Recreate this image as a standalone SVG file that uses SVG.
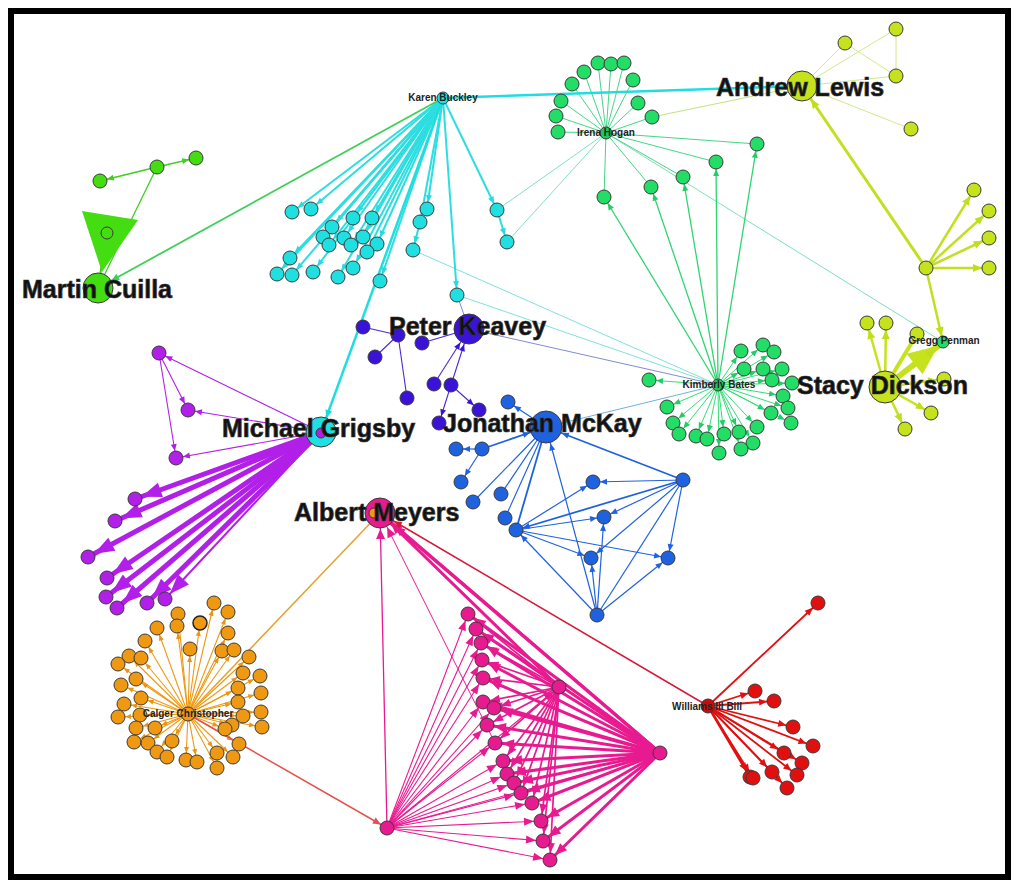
<svg xmlns="http://www.w3.org/2000/svg" width="1024" height="894" viewBox="0 0 1024 894">
<style>
.n circle{stroke:#3a3a3a;stroke-width:1}
.cy{fill:#1fdfe0}.gr{fill:#44dd11}.kg{fill:#22dd66}.yg{fill:#c6e21c}.pu{fill:#b11fe8}.vi{fill:#3a12d8}.bl{fill:#1f62e0}.pk{fill:#e81a90}.or{fill:#ee9911}.rd{fill:#e01010}
.big{font-family:"Liberation Sans",Arial,sans-serif;font-weight:bold;font-size:25px;fill:#111;stroke:#333;stroke-width:0.7}
.sm{font-family:"Liberation Sans",Arial,sans-serif;font-weight:bold;font-size:10px;fill:#222;text-anchor:middle}
g.e path{fill:none}
</style>
<defs>
<marker id="mcy" markerUnits="userSpaceOnUse" markerWidth="40" markerHeight="40" refX="14" refY="3" orient="auto" overflow="visible"><path d="M0,0L7,3L0,6z" fill="#1ed8dc"/></marker>
<marker id="mcyB" markerUnits="userSpaceOnUse" markerWidth="40" markerHeight="40" refX="23" refY="3.5" orient="auto" overflow="visible"><path d="M0,0L8,3.5L0,7z" fill="#1ed8dc"/></marker>
<marker id="mgr" markerUnits="userSpaceOnUse" markerWidth="40" markerHeight="40" refX="14" refY="3" orient="auto" overflow="visible"><path d="M0,0L7,3L0,6z" fill="#44cc22"/></marker>
<marker id="mgrB" markerUnits="userSpaceOnUse" markerWidth="40" markerHeight="40" refX="23" refY="3.5" orient="auto" overflow="visible"><path d="M0,0L8,3.5L0,7z" fill="#3fcf5a"/></marker>
<marker id="mkg" markerUnits="userSpaceOnUse" markerWidth="40" markerHeight="40" refX="14" refY="3" orient="auto" overflow="visible"><path d="M0,0L7,3L0,6z" fill="#22cc66"/></marker>
<marker id="myg" markerUnits="userSpaceOnUse" markerWidth="40" markerHeight="40" refX="16" refY="4" orient="auto" overflow="visible"><path d="M0,0L9,4L0,8z" fill="#bfdf1a"/></marker>
<marker id="mygG" markerUnits="userSpaceOnUse" markerWidth="40" markerHeight="40" refX="15" refY="4" orient="auto" overflow="visible"><path d="M0,0L9,4L0,8z" fill="#bfdf1a"/></marker>
<marker id="mygB" markerUnits="userSpaceOnUse" markerWidth="40" markerHeight="40" refX="25" refY="4" orient="auto" overflow="visible"><path d="M0,0L9,4L0,8z" fill="#bfdf1a"/></marker>
<marker id="mygH" markerUnits="userSpaceOnUse" markerWidth="60" markerHeight="60" refX="36" refY="13" orient="auto" overflow="visible"><path d="M0,0L30,13L0,26z" fill="#c6e21c"/></marker>
<marker id="mpuL" markerUnits="userSpaceOnUse" markerWidth="60" markerHeight="60" refX="27" refY="7.5" orient="auto" overflow="visible"><path d="M0,0L20,7.5L0,15z" fill="#b11fe8"/></marker>
<marker id="mpu" markerUnits="userSpaceOnUse" markerWidth="40" markerHeight="40" refX="14" refY="3" orient="auto" overflow="visible"><path d="M0,0L7,3L0,6z" fill="#b11fe8"/></marker>
<marker id="mvi" markerUnits="userSpaceOnUse" markerWidth="40" markerHeight="40" refX="14" refY="3" orient="auto" overflow="visible"><path d="M0,0L7,3L0,6z" fill="#3a12d8"/></marker>
<marker id="mviB" markerUnits="userSpaceOnUse" markerWidth="40" markerHeight="40" refX="23" refY="3" orient="auto" overflow="visible"><path d="M0,0L7,3L0,6z" fill="#3a12d8"/></marker>
<marker id="mbl" markerUnits="userSpaceOnUse" markerWidth="40" markerHeight="40" refX="14" refY="3" orient="auto" overflow="visible"><path d="M0,0L7,3L0,6z" fill="#1f62e0"/></marker>
<marker id="mblB" markerUnits="userSpaceOnUse" markerWidth="40" markerHeight="40" refX="24" refY="3" orient="auto" overflow="visible"><path d="M0,0L7,3L0,6z" fill="#1f62e0"/></marker>
<marker id="mpk" markerUnits="userSpaceOnUse" markerWidth="40" markerHeight="40" refX="17" refY="4" orient="auto" overflow="visible"><path d="M0,0L10,4L0,8z" fill="#e81a90"/></marker>
<marker id="mpkL" markerUnits="userSpaceOnUse" markerWidth="40" markerHeight="40" refX="19" refY="5" orient="auto" overflow="visible"><path d="M0,0L12,5L0,10z" fill="#e81a90"/></marker>
<marker id="mpkB" markerUnits="userSpaceOnUse" markerWidth="40" markerHeight="40" refX="26" refY="4.5" orient="auto" overflow="visible"><path d="M0,0L10,4.5L0,9z" fill="#e81a90"/></marker>
<marker id="mor" markerUnits="userSpaceOnUse" markerWidth="40" markerHeight="40" refX="13" refY="2.5" orient="auto" overflow="visible"><path d="M0,0L6,2.5L0,5z" fill="#e89414"/></marker>
<marker id="mrd" markerUnits="userSpaceOnUse" markerWidth="40" markerHeight="40" refX="15" refY="3.5" orient="auto" overflow="visible"><path d="M0,0L8,3.5L0,7z" fill="#e01010"/></marker>
<marker id="mrdB" markerUnits="userSpaceOnUse" markerWidth="40" markerHeight="40" refX="24" refY="3.5" orient="auto" overflow="visible"><path d="M0,0L8,3.5L0,7z" fill="#d81838"/></marker>
<marker id="mcb" markerUnits="userSpaceOnUse" markerWidth="40" markerHeight="40" refX="15" refY="3.5" orient="auto" overflow="visible"><path d="M0,0L8,3.5L0,7z" fill="#e84a5a"/></marker>
</defs>
<rect x="0" y="0" width="1024" height="894" fill="#fff"/>
<rect x="11" y="11" width="997" height="866" fill="none" stroke="#000" stroke-width="6"/>

<g id="connectors" class="e">
<g stroke-width="0.9" fill="none">
<path d="M413 250L718 385" stroke="#70dcd8"/>
<path d="M457 295L718 385" stroke="#70dcd8"/>
<path d="M457 295L469 329" stroke="#6a80e0"/>
<path d="M469 329L718 385" stroke="#7080c8"/>
<path d="M546 427L718 385" stroke="#60a8d8"/>
<path d="M606 133L497 210" stroke="#70dcc0"/>
<path d="M606 133L507 242" stroke="#70dcc0"/>
<path d="M606 133L943 342" stroke="#70dcb0"/>
<path d="M652 117L802 86" stroke="#b8e070"/>
</g>
<g stroke="#22dde0" stroke-width="2" marker-end="url(#mcy)" opacity="0.95">
<path d="M443 98L292 212"/><path d="M443 98L311 209"/><path d="M443 98L353 218"/><path d="M443 98L372 218"/><path d="M443 98L332 227"/><path d="M443 98L323 237"/><path d="M443 98L329 245"/><path d="M443 98L344 238"/><path d="M443 98L351 245"/><path d="M443 98L363 237"/><path d="M443 98L377 244"/><path d="M443 98L367 252"/><path d="M443 98L290 258"/><path d="M443 98L277 274"/><path d="M443 98L292 275"/><path d="M443 98L313 272"/><path d="M443 98L338 277"/><path d="M443 98L353 268"/><path d="M443 98L380 281"/><path d="M443 98L427 209"/><path d="M443 98L420 222"/><path d="M420 222L413 250"/><path d="M443 98L457 295"/><path d="M443 98L497 210"/><path d="M497 210L507 242"/>
</g>
<path d="M443 98L321 432" stroke="#22dde0" stroke-width="2.5" marker-end="url(#mcyB)"/>
<path d="M443 98L802 86" stroke="#22dde0" stroke-width="2.5"/>
<path d="M443 98L98 288" stroke="#3fcf5a" stroke-width="1.8" marker-end="url(#mgrB)"/>
<g stroke="#44cc22" stroke-width="1.3">
<path d="M157 167L100 181" marker-end="url(#mgr)"/>
<path d="M157 167L196 158" marker-end="url(#mgr)"/>
<path d="M157 167L98 288"/>
<path d="M107 233L98 288" stroke-width="2"/>
</g>
<g stroke="#44d688" stroke-width="1">
<path d="M606 133L558 132"/><path d="M606 133L556 116"/><path d="M606 133L561 101"/><path d="M606 133L572 84"/><path d="M606 133L584 72"/><path d="M606 133L598 63"/><path d="M606 133L611 64"/><path d="M606 133L624 63"/><path d="M606 133L633 80"/><path d="M606 133L638 103"/><path d="M606 133L652 117"/><path d="M606 133L757 144"/><path d="M606 133L716 162"/><path d="M606 133L683 177"/><path d="M606 133L651 187"/><path d="M606 133L604 197"/>
</g>
<g stroke="#2fd572" stroke-width="1.3" marker-end="url(#mkg)">
<path d="M718 385L604 197"/><path d="M718 385L651 187"/><path d="M718 385L683 177"/><path d="M718 385L716 162"/><path d="M718 385L757 144"/>
</g>
<g stroke="#33dd77" stroke-width="1" marker-end="url(#mkg)">
<path d="M718 385L649 380"/><path d="M718 385L741 351"/><path d="M718 385L763 345"/><path d="M718 385L774 352"/><path d="M718 385L744 369"/><path d="M718 385L763 369"/><path d="M718 385L782 369"/><path d="M718 385L772 380"/><path d="M718 385L792 383"/><path d="M718 385L783 396"/><path d="M718 385L788 408"/><path d="M718 385L771 413"/><path d="M718 385L791 423"/><path d="M718 385L667 407"/><path d="M718 385L673 423"/><path d="M718 385L679 434"/><path d="M718 385L696 436"/><path d="M718 385L707 439"/><path d="M718 385L724 434"/><path d="M718 385L739 432"/><path d="M718 385L757 427"/><path d="M718 385L753 443"/><path d="M718 385L741 449"/><path d="M718 385L719 453"/>
</g>
<g stroke="#d2ea8a" stroke-width="1">
<path d="M802 86L845 43"/><path d="M802 86L896 29"/><path d="M802 86L896 76"/><path d="M845 43L896 76"/><path d="M896 29L896 76"/><path d="M802 86L911 129"/>
</g>
<g stroke="#c2df22" stroke-width="2.5">
<path d="M926 268L802 86" stroke-width="3" marker-end="url(#mygB)"/>
<path d="M926 268L974 190" marker-end="url(#myg)"/><path d="M926 268L989 211" marker-end="url(#myg)"/><path d="M926 268L989 238" marker-end="url(#myg)"/><path d="M926 268L989 268" marker-end="url(#myg)"/>
<path d="M926 268L943 342" marker-end="url(#mygG)"/>
</g>
<g stroke="#c6e21c" stroke-width="2.5">
<path d="M885 387L867 323" marker-end="url(#myg)"/><path d="M885 387L886 323" marker-end="url(#myg)"/>
<path d="M885 387L917 334" stroke-width="4"/>
<path d="M885 387L943 342" stroke-width="6" marker-end="url(#mygH)"/>
<path d="M893 381L940 346" stroke-width="4" marker-end="url(#mygG)"/>
<path d="M885 387L944 379" marker-end="url(#myg)"/><path d="M885 387L931 413" marker-end="url(#myg)"/><path d="M885 387L905 429" marker-end="url(#myg)"/>
</g>
<g stroke="#b11fe8" stroke-width="1.1" marker-end="url(#mpu)">
<path d="M321 432L159 353"/><path d="M321 432L188 410"/><path d="M321 432L176 458"/><path d="M159 353L188 410"/><path d="M159 353L176 458"/>
</g>
<g stroke="#b11fe8" stroke-width="5" marker-end="url(#mpuL)">
<path d="M321 432L135 499"/><path d="M321 432L115 521"/><path d="M321 432L88 557"/><path d="M321 432L107 578"/><path d="M321 432L106 597"/><path d="M321 432L117 608"/><path d="M321 432L147 603"/><path d="M321 432L165 599" stroke-width="2"/>
</g>
<g stroke="#4a28d8" stroke-width="1.1">
<path d="M363 327L398 335"/><path d="M398 335L375 357"/><path d="M398 335L407 398"/><path d="M422 343L469 329"/>
<path d="M434 384L469 329" marker-end="url(#mviB)"/><path d="M451 385L469 329" marker-end="url(#mviB)"/>
<path d="M451 385L439 423" marker-end="url(#mvi)"/><path d="M451 385L479 410" marker-end="url(#mvi)"/>
</g>
<g stroke="#1f62e0" stroke-width="1.2">
<path d="M546 427L508 402" marker-end="url(#mbl)"/>
<path d="M482 449L456 449" marker-end="url(#mbl)"/>
<path d="M482 449L546 427" stroke-width="1.8" marker-end="url(#mblB)"/>
<path d="M482 449L461 482" marker-end="url(#mbl)"/>
<path d="M546 427L473 502"/><path d="M546 427L501 494"/><path d="M546 427L505 518"/><path d="M546 427L516 530" stroke-width="1.8"/>
<path d="M597 615L546 427" marker-end="url(#mblB)"/>
<path d="M683 480L546 427" stroke-width="1.8" marker-end="url(#mblB)"/>
<path d="M683 480L593 482" marker-end="url(#mbl)"/><path d="M683 480L604 517" marker-end="url(#mbl)"/><path d="M683 480L516 530" stroke-width="1.8" marker-end="url(#mbl)"/><path d="M683 480L668 558" marker-end="url(#mbl)"/><path d="M683 480L591 558" marker-end="url(#mbl)"/>
<path d="M516 530L593 482" marker-end="url(#mbl)"/><path d="M516 530L604 517" marker-end="url(#mbl)"/><path d="M516 530L591 558" marker-end="url(#mbl)"/><path d="M516 530L668 558" marker-end="url(#mbl)"/>
<path d="M597 615L516 530" marker-end="url(#mbl)"/><path d="M597 615L591 558" marker-end="url(#mbl)"/><path d="M597 615L604 517" marker-end="url(#mbl)"/><path d="M597 615L668 558" marker-end="url(#mbl)"/><path d="M597 615L683 480"/>
</g>
<g stroke="#ee9911" stroke-width="1.1" marker-end="url(#mor)">
<path d="M188 714L214 603"/><path d="M188 714L228 612"/><path d="M188 714L178 614"/><path d="M188 714L177 626"/><path d="M188 714L200 623"/><path d="M188 714L157 628"/><path d="M188 714L228 633"/><path d="M188 714L145 641"/><path d="M188 714L190 649"/><path d="M188 714L222 651"/><path d="M188 714L234 650"/><path d="M188 714L129 656"/><path d="M188 714L141 658"/><path d="M188 714L249 657"/><path d="M188 714L118 664"/><path d="M188 714L243 673"/><path d="M188 714L260 676"/><path d="M188 714L136 679"/><path d="M188 714L121 685"/><path d="M188 714L238 688"/><path d="M188 714L261 693"/><path d="M188 714L141 698"/><path d="M188 714L238 702"/><path d="M188 714L124 704"/><path d="M188 714L261 712"/><path d="M188 714L118 717"/><path d="M188 714L140 715"/><path d="M188 714L243 716"/><path d="M188 714L232 725"/><path d="M188 714L262 727"/><path d="M188 714L225 729"/><path d="M188 714L136 728"/><path d="M188 714L155 728"/><path d="M188 714L172 741"/><path d="M188 714L134 742"/><path d="M188 714L148 743"/><path d="M188 714L239 744"/><path d="M188 714L157 752"/><path d="M188 714L167 757"/><path d="M188 714L186 760"/><path d="M188 714L197 762"/><path d="M188 714L217 753"/><path d="M188 714L233 757"/><path d="M188 714L217 768"/>
</g>
<path d="M188 714L380 513" stroke="#e8a030" stroke-width="1.5"/>
<path d="M188 714L387 828" stroke="#e8504a" stroke-width="1.5" marker-end="url(#mcb)"/>
<g stroke="#e81a90" stroke-width="1.1" marker-end="url(#mpk)">
<path d="M387 828L468 614"/><path d="M387 828L476 629"/><path d="M387 828L481 643"/><path d="M387 828L482 660"/><path d="M387 828L483 678"/><path d="M387 828L483 702"/><path d="M387 828L494 708"/><path d="M387 828L487 725"/><path d="M387 828L495 743"/><path d="M387 828L503 761"/><path d="M387 828L507 774"/><path d="M387 828L514 783"/><path d="M387 828L521 793"/><path d="M387 828L532 803"/><path d="M387 828L541 821"/><path d="M387 828L543 841"/><path d="M387 828L550 860"/>
<path d="M387 828L559 687"/><path d="M387 828L660 753"/>
</g>
<g stroke="#e81a90" stroke-width="1.7" marker-end="url(#mpk)">
<path d="M559 687L468 614"/><path d="M559 687L476 629"/><path d="M559 687L481 643"/><path d="M559 687L482 660"/><path d="M559 687L483 678"/><path d="M559 687L483 702"/><path d="M559 687L494 708"/><path d="M559 687L487 725"/><path d="M559 687L495 743"/><path d="M559 687L503 761"/><path d="M559 687L507 774"/><path d="M559 687L514 783"/><path d="M559 687L521 793"/><path d="M559 687L532 803"/><path d="M559 687L541 821"/><path d="M559 687L543 841"/><path d="M559 687L550 860"/>
</g>
<g stroke="#e81a90" stroke-width="3" marker-end="url(#mpkL)">
<path d="M660 753L468 614"/><path d="M660 753L476 629"/><path d="M660 753L481 643"/><path d="M660 753L482 660"/><path d="M660 753L483 678"/><path d="M660 753L483 702"/><path d="M660 753L494 708"/><path d="M660 753L487 725"/><path d="M660 753L495 743"/><path d="M660 753L503 761"/><path d="M660 753L507 774"/><path d="M660 753L514 783"/><path d="M660 753L521 793"/><path d="M660 753L532 803"/><path d="M660 753L541 821"/><path d="M660 753L543 841"/><path d="M660 753L550 860"/>
</g>
<g stroke="#e81a90" marker-end="url(#mpkB)">
<path d="M387 828L380 513" stroke-width="1.3"/>
<path d="M660 753L380 513" stroke-width="3.5"/>
<path d="M655 748L383 516" stroke-width="2.5"/>
<path d="M559 687L380 513" stroke-width="3"/>
<path d="M495 743L380 513" stroke-width="1"/>
</g>
<g stroke="#e01010" stroke-width="1.8" marker-end="url(#mrd)">
<path d="M708 706L818 603"/><path d="M708 706L755 691"/><path d="M708 706L774 701"/><path d="M708 706L793 727"/><path d="M708 706L813 746"/><path d="M708 706L784 753"/><path d="M708 706L802 763"/><path d="M708 706L753 778"/><path d="M708 706L772 772"/><path d="M708 706L797 775"/><path d="M708 706L787 788"/><path d="M708 706L750 777" stroke-width="2.6"/>
</g>
<path d="M708 706L380 513" stroke="#d81838" stroke-width="1.5" marker-end="url(#mrdB)"/>
</g>

<g id="node-martin" class="n">
<polygon points="82,211 138,220 102,272" fill="#44dd11"/>
<circle cx="107" cy="233" r="6" fill="none" stroke-width="0.8"/>
<circle class="gr" cx="100" cy="181" r="7"/><circle class="gr" cx="157" cy="167" r="7"/><circle class="gr" cx="196" cy="158" r="7"/>
<circle class="gr" cx="98" cy="288" r="15"/>
</g>
<g id="node-karen" class="n">
<circle class="cy" cx="292" cy="212" r="7"/><circle class="cy" cx="311" cy="209" r="7"/><circle class="cy" cx="353" cy="218" r="7"/><circle class="cy" cx="372" cy="218" r="7"/><circle class="cy" cx="332" cy="227" r="7"/><circle class="cy" cx="323" cy="237" r="7"/><circle class="cy" cx="329" cy="245" r="7"/><circle class="cy" cx="344" cy="238" r="7"/><circle class="cy" cx="351" cy="245" r="7"/><circle class="cy" cx="363" cy="237" r="7"/><circle class="cy" cx="377" cy="244" r="7"/><circle class="cy" cx="367" cy="252" r="7"/><circle class="cy" cx="290" cy="258" r="7"/><circle class="cy" cx="277" cy="274" r="7"/><circle class="cy" cx="292" cy="275" r="7"/><circle class="cy" cx="313" cy="272" r="7"/><circle class="cy" cx="338" cy="277" r="7"/><circle class="cy" cx="353" cy="268" r="7"/><circle class="cy" cx="380" cy="281" r="7"/><circle class="cy" cx="427" cy="209" r="7"/><circle class="cy" cx="420" cy="222" r="7"/><circle class="cy" cx="413" cy="250" r="7"/><circle class="cy" cx="457" cy="295" r="7"/><circle class="cy" cx="497" cy="210" r="7"/><circle class="cy" cx="507" cy="242" r="7"/>
<circle class="cy" cx="443" cy="98" r="6"/>
</g>
<g id="node-irena" class="n">
<circle class="kg" cx="558" cy="132" r="7"/><circle class="kg" cx="556" cy="116" r="7"/><circle class="kg" cx="561" cy="101" r="7"/><circle class="kg" cx="572" cy="84" r="7"/><circle class="kg" cx="584" cy="72" r="7"/><circle class="kg" cx="598" cy="63" r="7"/><circle class="kg" cx="611" cy="64" r="7"/><circle class="kg" cx="624" cy="63" r="7"/><circle class="kg" cx="633" cy="80" r="7"/><circle class="kg" cx="638" cy="103" r="7"/><circle class="kg" cx="652" cy="117" r="7"/><circle class="kg" cx="757" cy="144" r="7"/><circle class="kg" cx="716" cy="162" r="7"/><circle class="kg" cx="683" cy="177" r="7"/><circle class="kg" cx="651" cy="187" r="7"/><circle class="kg" cx="604" cy="197" r="7"/>
<circle cx="606" cy="133" r="6" fill="#1fc85a"/>
</g>
<g id="node-kimberly" class="n">
<circle class="kg" cx="649" cy="380" r="7"/><circle class="kg" cx="741" cy="351" r="7"/><circle class="kg" cx="763" cy="345" r="7"/><circle class="kg" cx="774" cy="352" r="7"/><circle class="kg" cx="744" cy="369" r="7"/><circle class="kg" cx="763" cy="369" r="7"/><circle class="kg" cx="782" cy="369" r="7"/><circle class="kg" cx="772" cy="380" r="7"/><circle class="kg" cx="792" cy="383" r="7"/><circle class="kg" cx="783" cy="396" r="7"/><circle class="kg" cx="788" cy="408" r="7"/><circle class="kg" cx="771" cy="413" r="7"/><circle class="kg" cx="791" cy="423" r="7"/><circle class="kg" cx="667" cy="407" r="7"/><circle class="kg" cx="673" cy="423" r="7"/><circle class="kg" cx="679" cy="434" r="7"/><circle class="kg" cx="696" cy="436" r="7"/><circle class="kg" cx="707" cy="439" r="7"/><circle class="kg" cx="724" cy="434" r="7"/><circle class="kg" cx="739" cy="432" r="7"/><circle class="kg" cx="757" cy="427" r="7"/><circle class="kg" cx="753" cy="443" r="7"/><circle class="kg" cx="741" cy="449" r="7"/><circle class="kg" cx="719" cy="453" r="7"/>
<circle cx="718" cy="385" r="6" fill="#1fc85a"/>
</g>
<g id="node-andrew" class="n">
<circle class="yg" cx="845" cy="43" r="7"/><circle class="yg" cx="896" cy="29" r="7"/><circle class="yg" cx="896" cy="76" r="7"/><circle class="yg" cx="911" cy="129" r="7"/>
<circle class="yg" cx="926" cy="268" r="7"/><circle class="yg" cx="974" cy="190" r="7"/><circle class="yg" cx="989" cy="211" r="7"/><circle class="yg" cx="989" cy="238" r="7"/><circle class="yg" cx="989" cy="268" r="7"/>
<circle class="yg" cx="802" cy="86" r="15"/>
</g>
<g id="node-stacy" class="n">
<circle class="yg" cx="867" cy="323" r="7"/><circle class="yg" cx="886" cy="323" r="7"/><circle class="yg" cx="917" cy="334" r="7"/><circle class="yg" cx="944" cy="379" r="7"/><circle class="yg" cx="931" cy="413" r="7"/><circle class="yg" cx="905" cy="429" r="7"/>
<circle class="kg" cx="943" cy="342" r="6"/>
<circle class="yg" cx="885" cy="387" r="16"/>
</g>
<g id="node-michael" class="n">
<circle class="pu" cx="159" cy="353" r="7"/><circle class="pu" cx="188" cy="410" r="7"/><circle class="pu" cx="176" cy="458" r="7"/>
<circle class="pu" cx="135" cy="499" r="7"/><circle class="pu" cx="115" cy="521" r="7"/><circle class="pu" cx="88" cy="557" r="7"/><circle class="pu" cx="107" cy="578" r="7"/><circle class="pu" cx="106" cy="597" r="7"/><circle class="pu" cx="117" cy="608" r="7"/><circle class="pu" cx="147" cy="603" r="7"/><circle class="pu" cx="165" cy="599" r="7"/>
<circle class="cy" cx="321" cy="432" r="15"/>
<circle class="pu" cx="321" cy="433" r="5" stroke-width="0.5"/>
</g>
<g id="node-peter" class="n">
<circle class="vi" cx="363" cy="327" r="7"/><circle class="vi" cx="398" cy="335" r="7"/><circle class="vi" cx="422" cy="343" r="7"/><circle class="vi" cx="375" cy="357" r="7"/><circle class="vi" cx="407" cy="398" r="7"/><circle class="vi" cx="434" cy="384" r="7"/><circle class="vi" cx="451" cy="385" r="7"/><circle class="vi" cx="479" cy="410" r="7"/><circle class="vi" cx="439" cy="423" r="7"/>
<circle class="vi" cx="469" cy="329" r="15"/>
</g>
<g id="node-jonathan" class="n">
<circle class="bl" cx="508" cy="402" r="7"/><circle class="bl" cx="456" cy="449" r="7"/><circle class="bl" cx="482" cy="449" r="7"/><circle class="bl" cx="461" cy="482" r="7"/><circle class="bl" cx="473" cy="502" r="7"/><circle class="bl" cx="501" cy="494" r="7"/><circle class="bl" cx="505" cy="518" r="7"/><circle class="bl" cx="516" cy="530" r="7"/><circle class="bl" cx="593" cy="482" r="7"/><circle class="bl" cx="683" cy="480" r="7"/><circle class="bl" cx="604" cy="517" r="7"/><circle class="bl" cx="591" cy="558" r="7"/><circle class="bl" cx="668" cy="558" r="7"/><circle class="bl" cx="597" cy="615" r="7"/>
<circle class="bl" cx="546" cy="427" r="16"/>
</g>
<g id="node-calger" class="n">
<circle class="or" cx="214" cy="603" r="7"/><circle class="or" cx="228" cy="612" r="7"/><circle class="or" cx="178" cy="614" r="7"/><circle class="or" cx="177" cy="626" r="7"/><circle class="or" cx="200" cy="623" r="7" style="stroke:#222;stroke-width:1.5"/><circle class="or" cx="157" cy="628" r="7"/><circle class="or" cx="228" cy="633" r="7"/><circle class="or" cx="145" cy="641" r="7"/><circle class="or" cx="190" cy="649" r="7"/><circle class="or" cx="222" cy="651" r="7"/><circle class="or" cx="234" cy="650" r="7"/><circle class="or" cx="129" cy="656" r="7"/><circle class="or" cx="141" cy="658" r="7"/><circle class="or" cx="249" cy="657" r="7"/><circle class="or" cx="118" cy="664" r="7"/><circle class="or" cx="243" cy="673" r="7"/><circle class="or" cx="260" cy="676" r="7"/><circle class="or" cx="136" cy="679" r="7"/><circle class="or" cx="121" cy="685" r="7"/><circle class="or" cx="238" cy="688" r="7"/><circle class="or" cx="261" cy="693" r="7"/><circle class="or" cx="141" cy="698" r="7"/><circle class="or" cx="238" cy="702" r="7"/><circle class="or" cx="124" cy="704" r="7"/><circle class="or" cx="261" cy="712" r="7"/><circle class="or" cx="118" cy="717" r="7"/><circle class="or" cx="140" cy="715" r="7"/><circle class="or" cx="243" cy="716" r="7"/><circle class="or" cx="232" cy="725" r="7"/><circle class="or" cx="262" cy="727" r="7"/><circle class="or" cx="225" cy="729" r="7"/><circle class="or" cx="136" cy="728" r="7"/><circle class="or" cx="155" cy="728" r="7"/><circle class="or" cx="172" cy="741" r="7"/><circle class="or" cx="134" cy="742" r="7"/><circle class="or" cx="148" cy="743" r="7"/><circle class="or" cx="239" cy="744" r="7"/><circle class="or" cx="157" cy="752" r="7"/><circle class="or" cx="167" cy="757" r="7"/><circle class="or" cx="186" cy="760" r="7"/><circle class="or" cx="197" cy="762" r="7"/><circle class="or" cx="217" cy="753" r="7"/><circle class="or" cx="233" cy="757" r="7"/><circle class="or" cx="217" cy="768" r="7"/>
<circle class="or" cx="188" cy="714" r="7"/>
</g>
<g id="node-albert" class="n">
<circle class="pk" cx="468" cy="614" r="7"/><circle class="pk" cx="476" cy="629" r="7"/><circle class="pk" cx="481" cy="643" r="7"/><circle class="pk" cx="482" cy="660" r="7"/><circle class="pk" cx="483" cy="678" r="7"/><circle class="pk" cx="483" cy="702" r="7"/><circle class="pk" cx="494" cy="708" r="7"/><circle class="pk" cx="487" cy="725" r="7"/><circle class="pk" cx="495" cy="743" r="7"/><circle class="pk" cx="503" cy="761" r="7"/><circle class="pk" cx="507" cy="774" r="7"/><circle class="pk" cx="514" cy="783" r="7"/><circle class="pk" cx="521" cy="793" r="7"/><circle class="pk" cx="532" cy="803" r="7"/><circle class="pk" cx="541" cy="821" r="7"/><circle class="pk" cx="543" cy="841" r="7"/><circle class="pk" cx="550" cy="860" r="7"/>
<circle class="pk" cx="387" cy="828" r="7"/><circle class="pk" cx="660" cy="753" r="7"/><circle class="pk" cx="559" cy="687" r="7"/>
<circle class="pk" cx="380" cy="513" r="15"/>
<circle class="or" cx="374" cy="513" r="5" stroke-width="0.5"/>
</g>
<g id="node-bill" class="n">
<circle class="rd" cx="818" cy="603" r="7"/><circle class="rd" cx="755" cy="691" r="7"/><circle class="rd" cx="774" cy="701" r="7"/><circle class="rd" cx="793" cy="727" r="7"/><circle class="rd" cx="813" cy="746" r="7"/><circle class="rd" cx="784" cy="753" r="7"/><circle class="rd" cx="802" cy="763" r="7"/><circle class="rd" cx="750" cy="777" r="7"/><circle class="rd" cx="753" cy="778" r="7"/><circle class="rd" cx="772" cy="772" r="7"/><circle class="rd" cx="797" cy="775" r="7"/><circle class="rd" cx="787" cy="788" r="7"/>
<circle cx="708" cy="706" r="7" fill="#c80c0c"/>
</g>

<g id="labels">
<text class="big" x="22" y="298">Martin Cuilla</text>
<text class="big" x="716" y="96">Andrew Lewis</text>
<text class="big" x="389" y="335">Peter Keavey</text>
<text class="big" x="443" y="432">Jonathan McKay</text>
<text class="big" x="222" y="437">Michael Grigsby</text>
<text class="big" x="294" y="521">Albert Meyers</text>
<text class="big" x="797" y="394">Stacy Dickson</text>
<text class="sm" x="443" y="101">Karen Buckley</text>
<text class="sm" x="606" y="136">Irena Hogan</text>
<text class="sm" x="719" y="388">Kimberly Bates</text>
<text class="sm" x="944" y="344">Gregg Penman</text>
<text class="sm" x="188" y="717">Calger Christopher</text>
<text class="sm" x="707" y="710">Williams III Bill</text>
</g>
</svg>
